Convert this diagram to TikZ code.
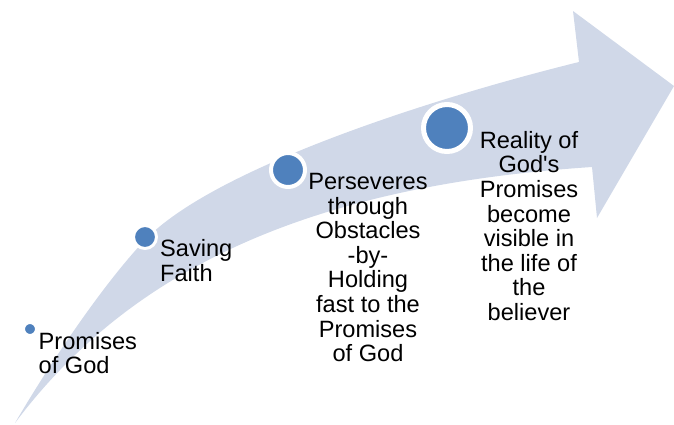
\documentclass[tikz,border=0pt]{standalone}
\usepackage{fontspec}
\setmainfont{Liberation Sans}
\definecolor{band}{RGB}{208,216,232}
\definecolor{dotblue}{RGB}{79,129,189}
\begin{document}
\begin{tikzpicture}[x=1pt, y=-1pt,
    dot/.style = {circle, fill=dotblue, draw=white, inner sep=0pt},
    txt/.style = {inner sep=0pt, font=\fontsize{23.6}{24.6}\selectfont}]
    \useasboundingbox (0,0) rectangle (674,424);
    % the rising arrow
    \fill[band] (15,423) .. controls (50,363) and (104,283) .. (145,240)
        .. controls (214,168) and (433,98) .. (579,62) -- (573,11) -- (674,86) -- (597,218) -- (592,167)
        .. controls (320,185) and (135,263) .. (15,423) -- cycle;
    \node[dot, minimum size=11.5pt, line width=1.5pt] (d1) at (30,329) {};
    \node[dot, minimum size=23pt, line width=3pt] (d2) at (145,237) {};
    \node[dot, minimum size=34pt, line width=4pt] (d3) at (288,170) {};
    \node[dot, minimum size=47pt, line width=5pt] (d4) at (447,128) {};
    \node[txt, align=left, anchor=north west] (t1) at (38.5,332) {Promises\\of God};
    \node[txt, align=left, anchor=north west] (t2) at (160,239.5) {Saving\\Faith};
    \node[txt, align=center, anchor=north] (t3) at (368,173) {Perseveres\\through\\Obstacles\\-by-\\Holding\\fast to the\\Promises\\of God};
    \node[txt, align=center, anchor=north] (t4) at (529,131) {Reality of\\God\textquotesingle s\\Promises\\become\\visible in\\the life of\\the\\believer};
\end{tikzpicture}
\end{document}
